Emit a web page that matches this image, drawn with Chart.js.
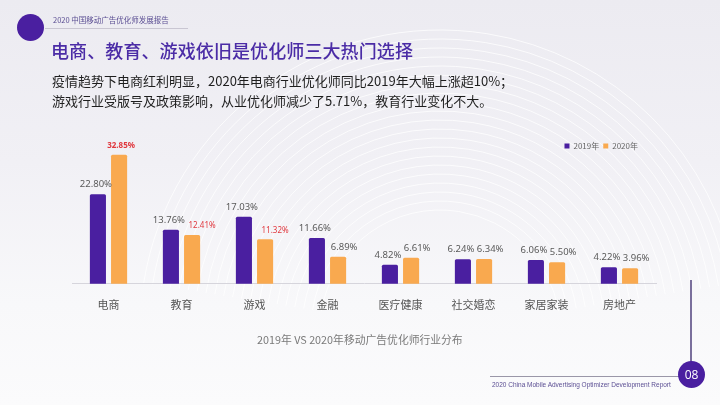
<!DOCTYPE html>
<html><head><meta charset="utf-8">
<script src="https://cdn.jsdelivr.net/npm/chart.js@4/dist/chart.umd.min.js"></script>
<style>
html,body{margin:0;padding:0;}
body{width:720px;height:405px;overflow:hidden;position:relative;font-family:"Noto Sans CJK SC","Noto Sans",sans-serif;
background:linear-gradient(180deg,#ecebf1 0%,#f1f0f5 40%,#f8f8fa 75%,#fbfbfc 100%);}
#c{position:absolute;left:0;top:0;}
.abs{position:absolute;white-space:nowrap;}
#hdrDot{left:17px;top:14px;width:27px;height:27px;border-radius:50%;background:#4a1fa0;}
#hdrTxt{left:53px;top:14px;font-size:7.5px;color:#5b4e93;}
#hdrLine{left:45px;top:28px;width:143px;height:1px;background:#c9c6d2;}
#title{left:51px;top:37px;font-size:18px;font-weight:500;color:#4b2ca6;letter-spacing:0.1px;}
#sub1{left:52px;top:71px;font-size:13px;color:#1e1e1e;}
#sub2{left:52px;top:91px;font-size:13px;color:#1e1e1e;}
#caption{left:257px;top:331px;font-size:10.8px;color:#7a7a7a;}
#vline{left:690px;top:280px;width:1.5px;height:84px;background:#7a6f9c;}
#hline{left:490px;top:376px;width:190px;height:1px;background:#9a97a8;}
#pgDot{left:678px;top:361px;width:27px;height:27px;border-radius:50%;background:#4a1fa0;color:#fff;font-size:12px;line-height:27px;text-align:center;font-family:"Open Sans",sans-serif;}
#foot{left:492px;top:381px;font-size:6.5px;color:#5b4e93;font-family:"Liberation Sans",sans-serif;}
</style></head>
<body>
<canvas id="c" width="720" height="405"></canvas>
<div id="hdrDot" class="abs"></div>
<div id="hdrTxt" class="abs">2020 中国移动广告优化师发展报告</div>
<div id="hdrLine" class="abs"></div>
<div id="title" class="abs">电商、教育、游戏依旧是优化师三大热门选择</div>
<div id="sub1" class="abs">疫情趋势下电商红利明显，2020年电商行业优化师同比2019年大幅上涨超10%；</div>
<div id="sub2" class="abs">游戏行业受版号及政策影响，从业优化师减少了5.71%，教育行业变化不大。</div>
<div id="caption" class="abs">2019年 VS 2020年移动广告优化师行业分布</div>
<div id="vline" class="abs"></div>
<div id="hline" class="abs"></div>
<div id="pgDot" class="abs">08</div>
<div id="foot" class="abs">2020 China Mobile Advertising Optimizer Development Report</div>
<script>
const categories = ["电商","教育","游戏","金融","医疗健康","社交婚恋","家居家装","房地产"];
const seriesNames = ["2019年","2020年"];
const values2019 = [22.80,13.76,17.03,11.66,4.82,6.24,6.06,4.22];
const values2020 = [32.85,12.41,11.32,6.89,6.61,6.34,5.50,3.96];
const hotCount = 3; // top-3 industries highlighted in 2020

const PURPLE = "#4a1fa0", ORANGE = "#f9a94f";

const bgDeco = {
  id: "bgDeco",
  beforeDraw(chart){
    const ctx = chart.ctx;
    ctx.save();
    ctx.strokeStyle = "rgba(255,255,255,0.75)";
    ctx.lineWidth = 1;
    for (let r = 120; r <= 300; r += 9) {
      ctx.beginPath();
      ctx.arc(440, 330, r, Math.PI*1.05, Math.PI*1.95);
      ctx.stroke();
    }
    ctx.restore();
  }
};

// nudge the legend a bit left of the plot's right edge
const legendNudge = {
  id: "legendNudge",
  afterLayout(chart){
    const lg = chart.legend;
    if (lg) { lg.left -= 14; lg.right -= 14; }
  }
};

const valueLabels = {
  id: "valueLabels",
  afterDatasetsDraw(chart){
    const ctx = chart.ctx;
    ctx.save();
    ctx.textAlign = "center";
    ctx.textBaseline = "bottom";
    chart.data.datasets.forEach((ds, di) => {
      const meta = chart.getDatasetMeta(di);
      const maxV = Math.max(...ds.data);
      meta.data.forEach((bar, i) => {
        const v = ds.data[i];
        let color = "#5a5a5a", font = "9.5px 'Noto Sans', sans-serif", dy = 5;
        let shift = di === 0 ? -2 : 6;
        if (di === 1 && i < hotCount) {
          color = "#e0383e";
          font = (v === maxV ? "bold " : "") + "8px 'Noto Sans', sans-serif";
          shift = v === maxV ? 2 : 10;
        }
        ctx.fillStyle = color;
        ctx.font = font;
        ctx.fillText(v.toFixed(2) + "%", bar.x + shift, bar.y - dy);
      });
    });
    ctx.restore();
  }
};

new Chart(document.getElementById("c"), {
  type: "bar",
  data: {
    labels: categories,
    datasets: [
      { label: seriesNames[0], data: values2019, backgroundColor: PURPLE, clip: false },
      { label: seriesNames[1], data: values2020, backgroundColor: ORANGE, clip: false }
    ]
  },
  options: {
    responsive: false,
    animation: false,
    devicePixelRatio: 1,
    layout: { padding: { left: 72, right: 64, top: 138, bottom: 88 } },
    datasets: { bar: { categoryPercentage: 0.58, barPercentage: 0.76, borderRadius: 1.5 } },
    scales: {
      x: {
        grid: { display: false },
        border: { color: "#d6d5dc", width: 1 },
        ticks: { color: "#555", font: { size: 11, family: "'Noto Sans CJK SC'" }, padding: 6 }
      },
      y: { display: false, min: 0, max: 31.5 }
    },
    plugins: {
      legend: {
        position: "top",
        align: "end",
        labels: {
          boxWidth: 5, boxHeight: 5, color: "#666",
          font: { size: 8, family: "'Noto Sans CJK SC'" }, padding: 4
        }
      },
      tooltip: { enabled: false }
    }
  },
  plugins: [bgDeco, legendNudge, valueLabels]
});
</script>
</body></html>
